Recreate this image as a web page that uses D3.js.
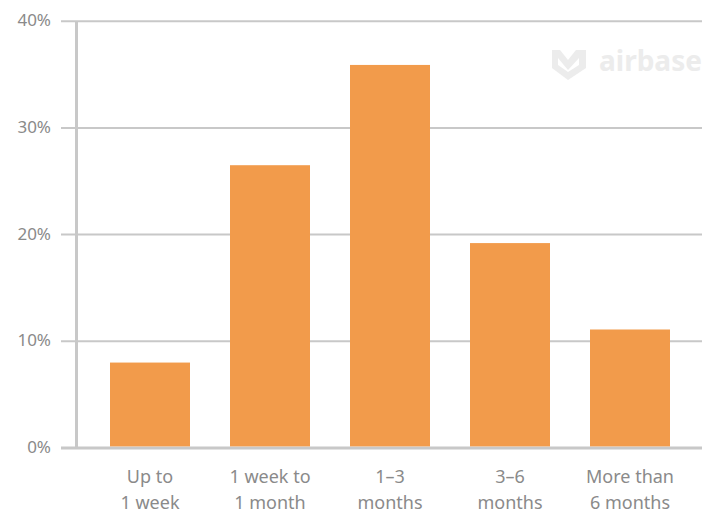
<!DOCTYPE html>
<html>
<head>
<meta charset="utf-8">
<script src="https://cdn.jsdelivr.net/npm/d3@7"></script>
<style>
html,body{margin:0;padding:0;background:#fff;}
svg{display:block;}
text{font-family:"Noto Sans","Open Sans",sans-serif;}
</style>
</head>
<body>
<svg id="chart" width="716" height="514"></svg>
<script>
const categories = [["Up to","1 week"],["1 week to","1 month"],["1\u20133","months"],["3\u20136","months"],["More than","6 months"]];
const values = [8.0, 26.5, 35.9, 19.2, 11.1];
const yTicks = [0, 10, 20, 30, 40];

const svg = d3.select("#chart");
const y = d3.scaleLinear().domain([0, 40]).range([447.9, 21.2]);
const x = d3.scaleBand().domain(d3.range(values.length)).range([90, 690]).paddingInner(1/3).paddingOuter(1/6);

const grid = "#c8c8c8";
const labelColor = "#8a8a8a";

// watermark
const wm = svg.append("g").attr("fill", "#ececec");
wm.append("path").attr("d", "M552,50 L560,50 L568,60 L576,50 L586,50 L586,68 L568,80 L552,68 Z M558,58 L558,65 L568,72 L579,65 L579,58 L568,70 Z").attr("fill-rule","evenodd");
wm.append("text").attr("x", 599).attr("y", 71).attr("font-size", 28).attr("font-weight", 700).attr("font-family","Noto Sans, sans-serif").text("airbase");

// gridlines
svg.append("g").selectAll("line").data(yTicks).join("line")
  .attr("x1", 61).attr("x2", 702)
  .attr("y1", d => y(d)).attr("y2", d => y(d))
  .attr("stroke", grid).attr("stroke-width", d => d === 0 ? 3 : 2);

// y axis line
svg.append("line").attr("x1", 76.5).attr("x2", 76.5).attr("y1", y(40)).attr("y2", y(0))
  .attr("stroke", grid).attr("stroke-width", 3);

// tick labels
svg.append("g").selectAll("text").data(yTicks).join("text")
  .attr("x", 51).attr("y", d => y(d) - 1).attr("dy", "0.35em")
  .attr("text-anchor", "end").attr("font-size", 17).attr("fill", labelColor)
  .text(d => d + "%");

// bars
svg.append("g").selectAll("rect").data(values).join("rect")
  .attr("x", (d, i) => x(i)).attr("width", x.bandwidth())
  .attr("y", d => y(d)).attr("height", d => y(0) - y(d) - 1.5)
  .attr("fill", "#f29b4b");

// category labels
const cl = svg.append("g").selectAll("text").data(categories).join("text")
  .attr("text-anchor", "middle").attr("font-size", 18).attr("fill", labelColor);
cl.each(function(d, i) {
  const t = d3.select(this);
  d.forEach((line, j) => {
    t.append("tspan").attr("x", x(i) + x.bandwidth()/2).attr("y", 483 + j * 26).text(line);
  });
});
</script>
</body>
</html>
